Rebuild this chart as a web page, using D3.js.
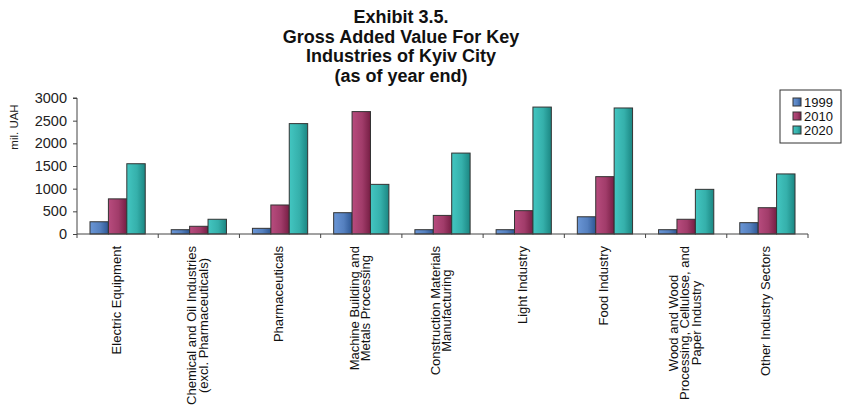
<!DOCTYPE html>
<html>
<head>
<meta charset="utf-8">
<script src="https://cdn.jsdelivr.net/npm/d3@7"></script>
<style>
  body { margin: 0; background: #fff; }
  svg { display: block; font-family: "Liberation Sans", Arial, sans-serif; }
</style>
</head>
<body>
<div id="chart"></div>
<script>
// data
const categories = [
    ['Electric Equipment'],
    ['Chemical and Oil Industries', '(excl. Pharmaceuticals)'],
    ['Pharmaceuticals'],
    ['Machine Building and', 'Metals Processing'],
    ['Construction Materials', 'Manufacturing'],
    ['Light Industry'],
    ['Food Industry'],
    ['Wood and Wood', 'Processing, Cellulose, and', 'Paper Industry'],
    ['Other Industry Sectors']
]
const years = ['1999', '2010', '2020']
const values1999 = [270, 95, 125, 470, 95, 95, 380, 95, 250]
const values2010 = [775, 170, 640, 2700, 410, 515, 1265, 325, 580]
const values2020 = [1550, 325, 2435, 1095, 1785, 2800, 2780, 985, 1325]
const yTicks = [0, 500, 1000, 1500, 2000, 2500, 3000]
const titleLines = ['Exhibit 3.5.', 'Gross Added Value For Key', 'Industries of Kyiv City', '(as of year end)']

const series = [values1999, values2010, values2020]
const rows = categories.map((c, i) => ({
    key: i,
    lines: c,
    values: years.map((y, j) => ({ year: y, value: series[j][i] }))
}))

// dimensions
const dims = { width: 842, height: 410, left: 77, right: 808, top: 98, bottom: 234 }

const svg = d3.select('#chart')
    .append('svg')
    .attr('width', dims.width)
    .attr('height', dims.height)

// gradients per series
const colors = {
    '1999': ['#6a96d6', '#2d5794'],
    '2010': ['#b84c7e', '#761e44'],
    '2020': ['#43c6c1', '#1b8682']
}
const defs = svg.append('defs')
years.forEach(y => {
    const g = defs.append('linearGradient')
        .attr('id', 'grad' + y)
        .attr('x1', 0).attr('x2', 1).attr('y1', 0).attr('y2', 0)
    g.append('stop').attr('offset', '0%').attr('stop-color', colors[y][0])
    g.append('stop').attr('offset', '55%').attr('stop-color', d3.interpolateRgb(colors[y][0], colors[y][1])(0.35))
    g.append('stop').attr('offset', '100%').attr('stop-color', colors[y][1])
})

// scales
const x0 = d3.scaleBand()
    .domain(rows.map(r => r.key))
    .range([dims.left, dims.right])
    .paddingInner(0.32)
    .paddingOuter(0.16)

const x1 = d3.scaleBand()
    .domain(years)
    .range([0, x0.bandwidth()])

const yScale = d3.scaleLinear()
    .domain([0, 3000])
    .range([dims.bottom, dims.top])

// title
svg.append('text')
    .attr('text-anchor', 'middle')
    .attr('font-size', 18)
    .attr('font-weight', 'bold')
    .attr('fill', '#111')
    .selectAll('tspan')
    .data(titleLines)
    .join('tspan')
    .attr('x', 401)
    .attr('y', (d, i) => 23 + i * 19.5)
    .text(d => d)

// bars
const groups = svg.append('g')
    .selectAll('g')
    .data(rows)
    .join('g')
    .attr('transform', d => `translate(${x0(d.key)},0)`)

groups.selectAll('rect')
    .data(d => d.values)
    .join('rect')
    .attr('x', d => x1(d.year))
    .attr('y', d => yScale(d.value))
    .attr('width', x1.bandwidth())
    .attr('height', d => yScale(0) - yScale(d.value))
    .attr('fill', d => `url(#grad${d.year})`)
    .attr('stroke', '#333')
    .attr('stroke-width', 1)

// y axis
const yAxis = svg.append('g')
    .attr('transform', `translate(${dims.left},0)`)
    .call(d3.axisLeft(yScale).tickValues(yTicks).tickSize(4).tickPadding(6).tickFormat(d3.format('d')))
yAxis.select('.domain').attr('stroke', '#444').attr('d', `M-4,${dims.top}H0V${dims.bottom}`)
yAxis.selectAll('.tick line').attr('stroke', '#444')
yAxis.selectAll('.tick text')
    .attr('font-size', 14.5)
    .attr('font-family', '"Liberation Sans", Arial, sans-serif')
    .attr('fill', '#222')

svg.append('text')
    .attr('transform', 'translate(18,127) rotate(-90)')
    .attr('text-anchor', 'middle')
    .attr('font-size', 11.5)
    .attr('fill', '#222')
    .text('mil. UAH')

// x axis line with ticks at category boundaries
const xAxis = svg.append('g')
xAxis.append('line')
    .attr('x1', dims.left).attr('x2', dims.right)
    .attr('y1', dims.bottom).attr('y2', dims.bottom)
    .attr('stroke', '#444')
const step = x0.step()
xAxis.selectAll('.xt')
    .data(d3.range(rows.length + 1))
    .join('line')
    .attr('class', 'xt')
    .attr('x1', i => dims.left + i * step)
    .attr('x2', i => dims.left + i * step)
    .attr('y1', dims.bottom)
    .attr('y2', dims.bottom + 4)
    .attr('stroke', '#444')

// category labels, rotated, centred lines
const labelTop = 246
const lineH = 11.5
const labels = svg.append('g')
    .selectAll('text')
    .data(rows)
    .join('text')
    .attr('font-size', 13)
    .attr('fill', '#111')
    .attr('text-anchor', 'middle')

labels.each(function (d) {
    const t = d3.select(this)
    t.selectAll('tspan')
        .data(d.lines)
        .join('tspan')
        .attr('x', 0)
        .attr('y', (l, i) => i * lineH)
        .text(l => l)
    const maxLen = d3.max(t.selectAll('tspan').nodes(), n => n.getComputedTextLength())
    const cx = x0(d.key) + x0.bandwidth() / 2 - (d.lines.length - 1) * lineH / 2 + 3
    const cy = labelTop + maxLen / 2
    t.attr('transform', `translate(${cx},${cy}) rotate(-90)`)
})

// legend
const legend = svg.append('g').attr('transform', 'translate(780,90)')
legend.append('rect')
    .attr('width', 61).attr('height', 53)
    .attr('fill', '#fff')
    .attr('stroke', '#333')
const li = legend.selectAll('.item')
    .data(years)
    .join('g')
    .attr('class', 'item')
    .attr('transform', (d, i) => `translate(13,${12 + i * 14})`)
li.append('rect')
    .attr('x', 0).attr('y', -4)
    .attr('width', 8).attr('height', 8)
    .attr('fill', d => `url(#grad${d})`)
    .attr('stroke', '#333')
li.append('text')
    .attr('x', 11).attr('y', 4.5)
    .attr('font-size', 13)
    .attr('fill', '#111')
    .text(d => d)
</script>
</body>
</html>
